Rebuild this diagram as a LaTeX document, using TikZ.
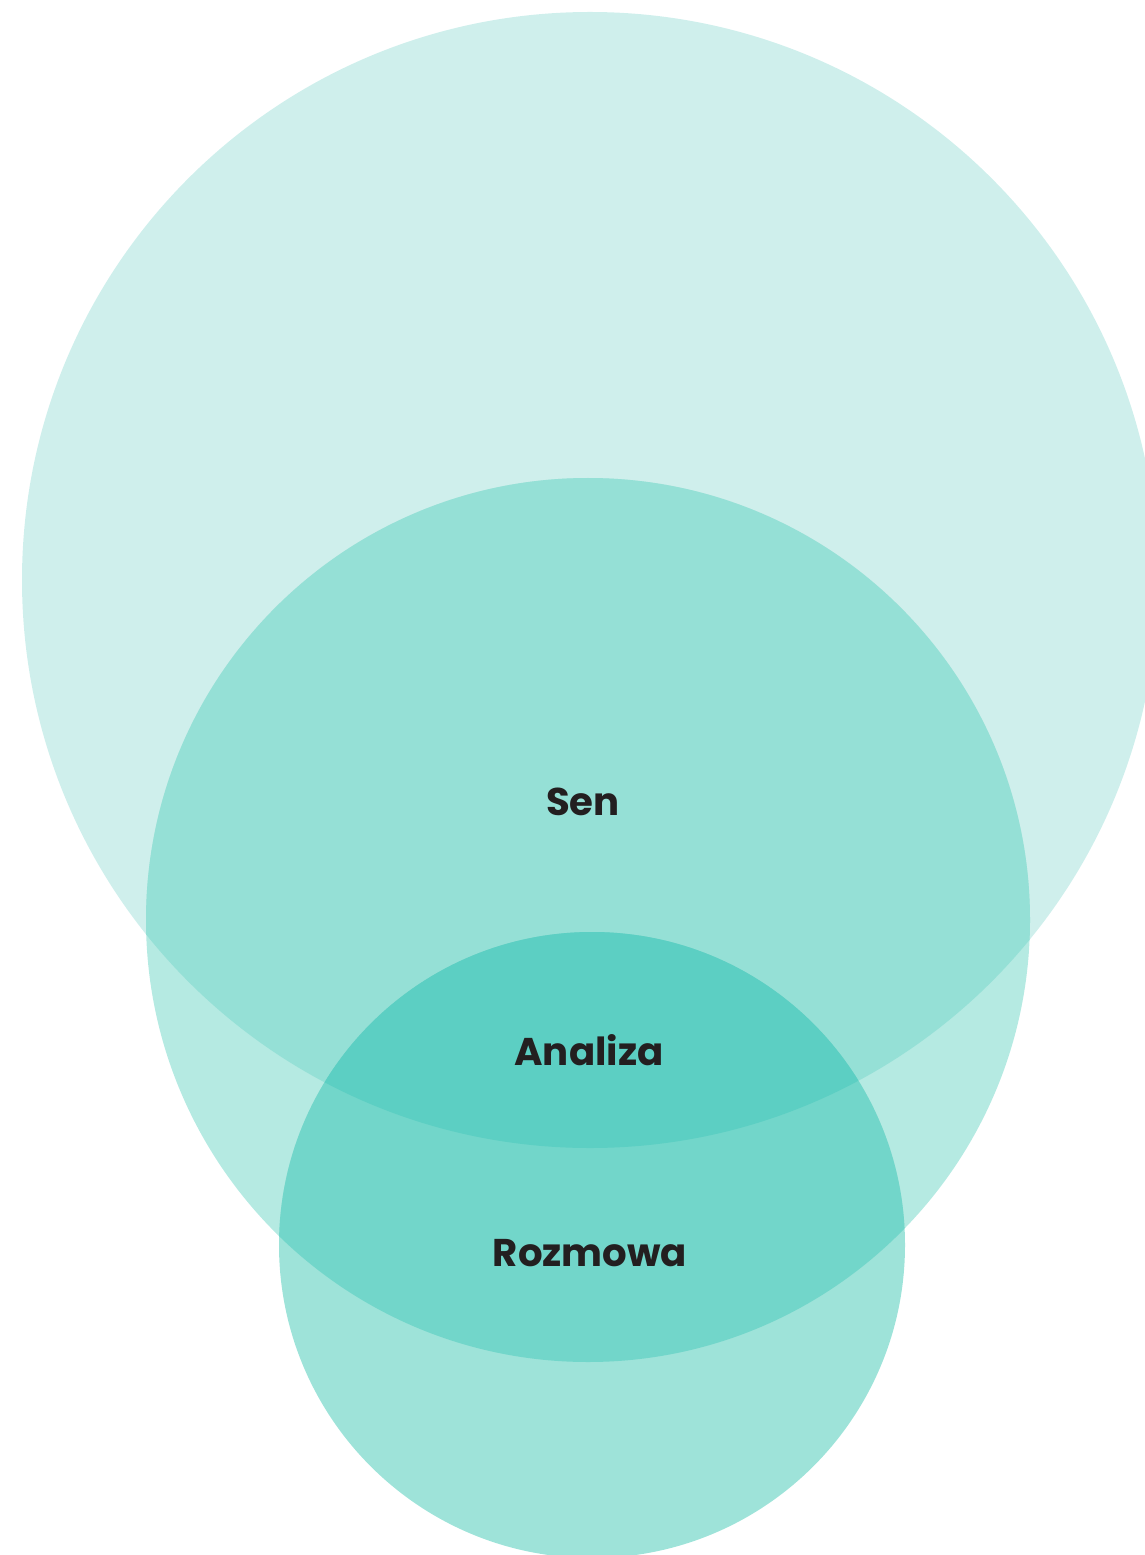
\documentclass[tikz,border=0pt]{standalone}
\usepackage{fontspec}
\setmainfont{Poppins}
\usepackage{xcolor}
\usepackage{tikz}

\definecolor{senfill}{HTML}{CFEFEC}
\definecolor{analizafill}{HTML}{B5EAE2}
\definecolor{rozmowafill}{HTML}{9EE3D9}
\definecolor{senanaliza}{HTML}{95E0D6}
\definecolor{analizarozmowa}{HTML}{72D6CA}
\definecolor{allthree}{HTML}{5CCFC3}
\definecolor{labeltext}{HTML}{231F20}

\begin{document}
\begin{tikzpicture}[
  label/.style={font=\bfseries\fontsize{22}{26}\selectfont, text=labeltext, anchor=base, inner sep=0pt}
]
\useasboundingbox (0,0) rectangle (22.9,-31.1);

% circle centres
\coordinate (senC) at (11.80,-11.60);
\coordinate (analizaC) at (11.76,-18.40);
\coordinate (rozmowaC) at (11.84,-24.90);

% single circles
\fill[senfill] (senC) circle (11.36);
\fill[analizafill] (analizaC) circle (8.84);
\fill[rozmowafill] (rozmowaC) circle (6.26);

% overlaps
\begin{scope}
  \clip (senC) circle (11.36);
  \fill[senanaliza] (analizaC) circle (8.84);
\end{scope}
\begin{scope}
  \clip (analizaC) circle (8.84);
  \fill[analizarozmowa] (rozmowaC) circle (6.26);
\end{scope}
\begin{scope}
  \clip (senC) circle (11.36);
  \clip (analizaC) circle (8.84);
  \fill[allthree] (rozmowaC) circle (6.26);
\end{scope}

\node[label] (sen) at (11.66,-16.30) {Sen};
\node[label] (analiza) at (11.78,-21.30) {Analiza};
\node[label] (rozmowa) at (11.80,-25.32) {Rozmowa};
\end{tikzpicture}
\end{document}
